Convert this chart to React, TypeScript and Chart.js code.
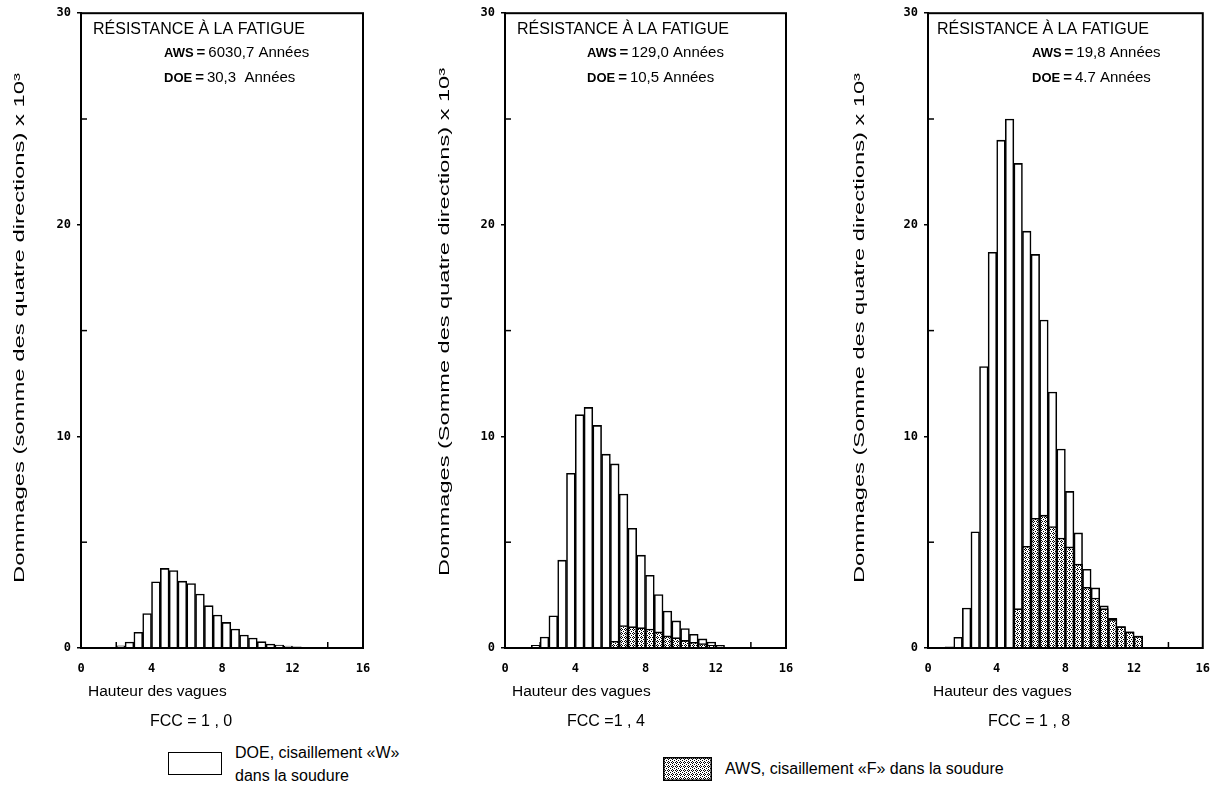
import React, { useEffect, useRef } from "react";
import { Chart, registerables } from "chart.js";

Chart.register(...registerables);

// ---------- data ----------
const binCenters = [
  1.25, 1.75, 2.25, 2.75, 3.25, 3.75, 4.25, 4.75, 5.25, 5.75, 6.25, 6.75,
  7.25, 7.75, 8.25, 8.75, 9.25, 9.75, 10.25, 10.75, 11.25, 11.75, 12.25,
];

const doeFcc10 = [
  null, null, 0.1, 0.28, 0.74, 1.63, 3.13, 3.76, 3.66, 3.16, 3.05, 2.55,
  2.0, 1.56, 1.21, 0.9, 0.61, 0.47, 0.3, 0.19, 0.14, 0.09, 0.06,
];
const awsFcc10 = [
  null, null, null, null, null, null, null, null, null, null, null, null,
  null, null, null, null, null, null, null, null, null, null, null,
];

const doeFcc14 = [
  null, 0.13, 0.52, 1.52, 4.15, 8.26, 11.03, 11.37, 10.52, 9.16, 8.7, 7.28,
  5.66, 4.39, 3.44, 2.53, 1.75, 1.28, 0.92, 0.65, 0.43, 0.28, 0.13,
];
const awsFcc14 = [
  null, null, null, null, null, null, null, null, null, null, 0.32, 1.06,
  1.01, 0.96, 0.9, 0.76, 0.57, 0.49, 0.36, 0.27, 0.21, 0.13, 0.06,
];

const doeFcc18 = [
  0.05, 0.51, 1.89, 5.49, 13.3, 18.7, 24.0, 25.0, 22.9, 19.7, 18.6, 15.5,
  12.1, 9.4, 7.4, 5.44, 3.72, 2.84, 1.99, 1.4, 1.01, 0.76, 0.56,
];
const awsFcc18 = [
  null, null, null, null, null, null, null, null, 1.86, 4.81, 6.13, 6.28,
  5.74, 5.2, 4.78, 3.97, 2.87, 2.36, 1.86, 1.35, 1.01, 0.76, 0.56,
];

const xTicks = [0, 4, 8, 12, 16];
const yTicks = [0, 10, 20, 30];
const yMinorTicks = [5, 15, 25];
const xMinorTicks = [2, 6, 10, 14];

const yTitles = [
  "Dommages (somme des quatre directions) x 10³",
  "Dommages (Somme des quatre directions) x 10³",
  "Dommages (Somme des quatre directions) x 10³",
];
const boxTitle = "RÉSISTANCE À LA FATIGUE";
const awsYears = ["6030,7 Années", "129,0 Années", "19,8 Années"];
const doeYears = ["30,3  Années", "10,5 Années", "4.7 Années"];
const xTitle = "Hauteur des vagues";
const fccLabels = ["FCC = 1 , 0", "FCC =1 , 4", "FCC = 1 , 8"];
const legendDoe = ["DOE, cisaillement «W»", "dans la soudure"];
const legendAws = "AWS, cisaillement «F» dans la soudure";

// ---------- layout ----------
const CANVAS_H = 740;
const PLOT_TOP = 12;
const PLOT_BOTTOM = 648;

const panels = [
  { left: 0, width: 400, axisLeft: 81, padRight: 37, doe: doeFcc10, aws: awsFcc10,
    yTitleDx: -61, yTitleCy: 328, yTitleLen: 510, textDx: 83, titleDx: 12, xTitleDx: 7, fccDx: 69 },
  { left: 420, width: 400, axisLeft: 85, padRight: 34, doe: doeFcc14, aws: awsFcc14,
    yTitleDx: -60, yTitleCy: 322, yTitleLen: 508, textDx: 82, titleDx: 12, xTitleDx: 7, fccDx: 62 },
  { left: 840, width: 384, axisLeft: 88, padRight: 16, doe: doeFcc18, aws: awsFcc18,
    yTitleDx: -68, yTitleCy: 328, yTitleLen: 510, textDx: 104, titleDx: 9, xTitleDx: 5, fccDx: 60 },
];

const SANS = '"Liberation Sans", Arial, Helvetica, sans-serif';
const MONO = '"DejaVu Sans Mono", monospace';

function makeTile(): HTMLCanvasElement {
  const c = document.createElement("canvas");
  c.width = 4;
  c.height = 4;
  const g = c.getContext("2d");
  if (g) {
    g.fillStyle = "#fff";
    g.fillRect(0, 0, 4, 4);
    g.fillStyle = "#000";
    const pts = [[1, 0], [0, 1], [2, 1], [1, 2], [3, 3]];
    pts.forEach(([x, y]) => g.fillRect(x, y, 1, 1));
  }
  return c;
}

function makePattern(ctx: CanvasRenderingContext2D | null): CanvasPattern | string {
  if (!ctx) return "#888";
  return ctx.createPattern(makeTile(), "repeat") || "#888";
}

function Swatch() {
  const ref = useRef<HTMLCanvasElement>(null);
  useEffect(() => {
    const c = ref.current;
    if (!c) return;
    const g = c.getContext("2d");
    if (!g) return;
    g.fillStyle = makePattern(g) as any;
    g.fillRect(0, 0, c.width, c.height);
    g.strokeStyle = "#000";
    g.lineWidth = 1.5;
    g.strokeRect(0.75, 0.75, c.width - 1.5, c.height - 1.5);
  }, []);
  return (
    <canvas
      ref={ref}
      width={49}
      height={24}
      style={{ position: "absolute", left: 663, top: 757, width: 49, height: 24 }}
    />
  );
}

function Panel({ idx }: { idx: number }) {
  const ref = useRef<HTMLCanvasElement>(null);
  const p = panels[idx];

  useEffect(() => {
    const canvas = ref.current;
    if (!canvas) return;
    const pattern = makePattern(canvas.getContext("2d"));

    const line = (ctx: CanvasRenderingContext2D, x1: number, y1: number, x2: number, y2: number) => {
      ctx.beginPath();
      ctx.moveTo(x1, y1);
      ctx.lineTo(x2, y2);
      ctx.stroke();
    };

    const decor = {
      id: "decor" + idx,
      beforeDatasetsDraw(chart: any) {
        const { ctx, chartArea: a, scales } = chart;
        ctx.save();
        ctx.strokeStyle = "#000";
        ctx.lineWidth = 1.5;
        yMinorTicks.forEach((v) => {
          const py = scales.y.getPixelForValue(v);
          line(ctx, a.left, py, a.left + 6, py);
        });
        xMinorTicks.forEach((v) => {
          const px = scales.x.getPixelForValue(v);
          line(ctx, px, a.bottom, px, a.bottom - 6);
        });
        ctx.restore();
      },
      afterDatasetsDraw(chart: any) {
        const { ctx, chartArea: a } = chart;
        ctx.save();
        ctx.strokeStyle = "#000";
        ctx.lineWidth = 2;
        ctx.strokeRect(a.left, a.top, a.right - a.left, a.bottom - a.top);
        ctx.restore();
      },
      afterDraw(chart: any) {
        const { ctx, chartArea: a } = chart;
        ctx.save();
        ctx.fillStyle = "#000";
        ctx.textBaseline = "middle";
        ctx.textAlign = "left";

        // fatigue box
        ctx.font = `16px ${SANS}`;
        ctx.fillText(boxTitle, a.left + p.titleDx, a.top + 16);

        const drawLine = (label: string, val: string, y: number) => {
          let x = a.left + p.textDx;
          ctx.font = `bold 13px ${SANS}`;
          ctx.fillText(label, x, y);
          x += ctx.measureText(label).width + 3;
          ctx.font = `bold 15px ${SANS}`;
          ctx.fillText("=", x, y);
          x += ctx.measureText("=").width + 3;
          ctx.font = `15px ${SANS}`;
          ctx.fillText(val, x, y);
        };
        drawLine("AWS", awsYears[idx], a.top + 40);
        drawLine("DOE", doeYears[idx], a.top + 65);

        // x title and FCC
        ctx.font = `15.5px ${SANS}`;
        ctx.fillText(xTitle, a.left + p.xTitleDx, a.bottom + 44);
        ctx.font = `16px ${SANS}`;
        ctx.fillText(fccLabels[idx], a.left + p.fccDx, a.bottom + 74);

        // y title (rotated, stretched along its length)
        ctx.translate(a.left + p.yTitleDx, p.yTitleCy);
        ctx.rotate(-Math.PI / 2);
        ctx.font = `15px ${SANS}`;
        const w = ctx.measureText(yTitles[idx]).width;
        ctx.scale(p.yTitleLen / w, 1);
        ctx.textAlign = "center";
        ctx.fillText(yTitles[idx], 0, 0);
        ctx.restore();
      },
    };

    const mk = (vals: (number | null)[]) => binCenters.map((c, i) => ({ x: c, y: vals[i] }));

    const chart = new Chart(canvas, {
      type: "bar",
      data: {
        datasets: [
          {
            label: "AWS, cisaillement «F» dans la soudure",
            data: mk(p.aws) as any,
            backgroundColor: pattern as any,
            borderColor: "#000",
            borderWidth: 1.6,
            grouped: false,
            order: 1,
            barPercentage: 1,
            categoryPercentage: 1,
          } as any,
          {
            label: "DOE, cisaillement «W» dans la soudure",
            data: mk(p.doe) as any,
            backgroundColor: "#fff",
            borderColor: "#000",
            borderWidth: 1.6,
            grouped: false,
            order: 2,
            barPercentage: 1,
            categoryPercentage: 1,
          } as any,
        ],
      },
      options: {
        animation: false,
        responsive: false,
        devicePixelRatio: 1,
        layout: { padding: { left: 0, right: p.padRight, top: PLOT_TOP, bottom: 0 } },
        plugins: { legend: { display: false }, tooltip: { enabled: false }, title: { display: false } },
        scales: {
          x: {
            type: "linear",
            min: xTicks[0],
            max: xTicks[xTicks.length - 1],
            offset: false,
            afterBuildTicks: (s: any) => {
              s.ticks = xTicks.map((v) => ({ value: v }));
            },
            afterFit: (s: any) => {
              s.height = CANVAS_H - PLOT_BOTTOM;
            },
            grid: { display: true, offset: false, drawOnChartArea: false, drawTicks: false, color: "#000" },
            border: { display: true, color: "#000", width: 2 },
            ticks: {
              padding: 14,
              maxRotation: 0,
              autoSkip: false,
              color: "#000",
              font: { family: MONO, size: 12, weight: "bold" },
            },
          },
          y: {
            type: "linear",
            min: yTicks[0],
            max: yTicks[yTicks.length - 1],
            afterBuildTicks: (s: any) => {
              s.ticks = yTicks.map((v) => ({ value: v }));
            },
            afterFit: (s: any) => {
              s.width = p.axisLeft;
            },
            grid: { display: true, drawOnChartArea: false, drawTicks: true, tickLength: 4, color: "#000", lineWidth: 1.5 },
            border: { display: true, color: "#000", width: 2 },
            ticks: {
              padding: 6,
              color: "#000",
              font: { family: MONO, size: 12, weight: "bold" },
            },
          },
        },
      } as any,
      plugins: [decor],
    });
    return () => chart.destroy();
  }, []);

  return (
    <canvas
      ref={ref}
      width={p.width}
      height={CANVAS_H}
      style={{ position: "absolute", left: p.left, top: 0, width: p.width, height: CANVAS_H }}
    />
  );
}

export default function App() {
  const textStyle: React.CSSProperties = {
    position: "absolute",
    fontFamily: SANS,
    fontSize: 16,
    color: "#000",
    whiteSpace: "nowrap",
  };
  return (
    <div style={{ position: "absolute", left: 0, top: 0, width: 1224, height: 793, background: "#fff", overflow: "hidden" }}>
      {panels.map((_, i) => (
        <Panel key={i} idx={i} />
      ))}
      <div
        style={{
          position: "absolute",
          left: 168,
          top: 752,
          width: 52,
          height: 21,
          border: "1.5px solid #000",
          background: "#fff",
        }}
      />
      <div style={{ ...textStyle, left: 235, top: 741, lineHeight: "23px" }}>
        {legendDoe[0]}
        <br />
        {legendDoe[1]}
      </div>
      <Swatch />
      <div style={{ ...textStyle, left: 725, top: 757, lineHeight: "23px" }}>{legendAws}</div>
    </div>
  );
}
